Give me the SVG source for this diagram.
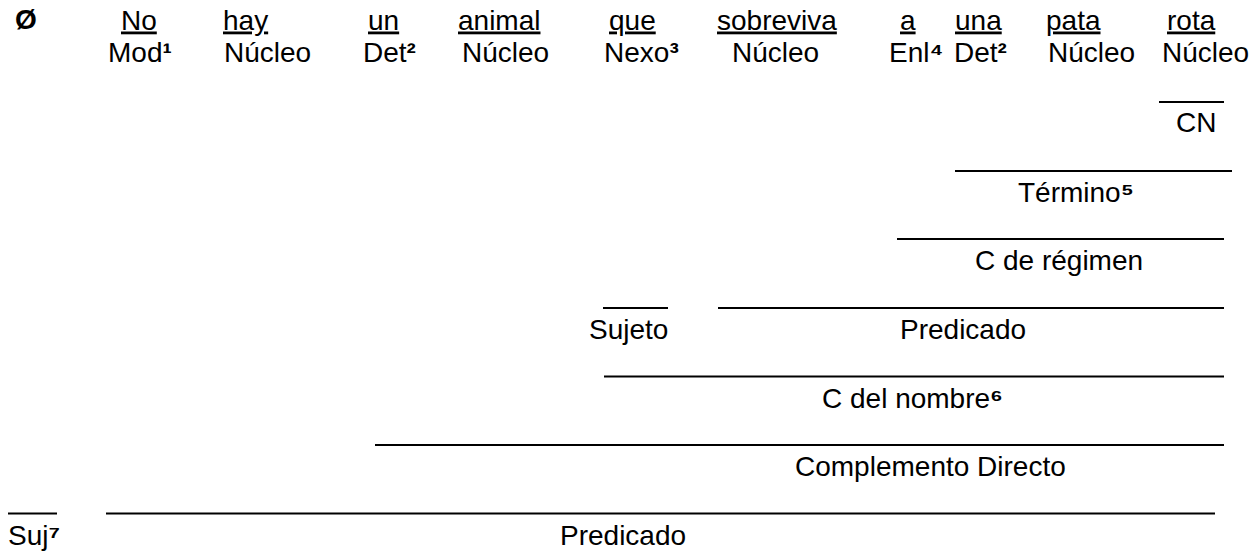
<svg xmlns="http://www.w3.org/2000/svg" width="1257" height="552" viewBox="0 0 1257 552">
<style>
text{font-family:"Liberation Sans",Arial,sans-serif;font-size:28px;fill:#000}
.w{text-decoration:underline}
.b{font-weight:bold}
.s{font-weight:bold}
.ln{stroke:#000;stroke-width:1.8}
</style>
<rect width="1257" height="552" fill="#fff"/>
<g id="null-subject"><text class="b" x="15" y="29" font-size="25">Ø</text></g>
<g id="w-no"><text class="w" x="121" y="29.5">No</text><text x="108" y="62">Mod<tspan class="s">¹</tspan></text></g>
<g id="w-hay"><text class="w" x="223" y="29.5">hay</text><text x="224" y="62">Núcleo</text></g>
<g id="w-un"><text class="w" x="368" y="29.5">un</text><text x="363" y="62">Det<tspan class="s">²</tspan></text></g>
<g id="w-animal"><text class="w" x="458" y="29.5">animal</text><text x="462" y="62">Núcleo</text></g>
<g id="w-que"><text class="w" x="609" y="29.5">que</text><text x="604" y="62">Nexo<tspan class="s">³</tspan></text></g>
<g id="w-sobreviva"><text class="w" x="717" y="29.5">sobreviva</text><text x="732" y="62">Núcleo</text></g>
<g id="w-a"><text class="w" x="900" y="29.5">a</text><text x="889" y="62">Enl<tspan class="s">⁴</tspan></text></g>
<g id="w-una"><text class="w" x="955" y="29.5">una</text><text x="954" y="62">Det<tspan class="s">²</tspan></text></g>
<g id="w-pata"><text class="w" x="1046" y="29.5">pata</text><text x="1048" y="62">Núcleo</text></g>
<g id="w-rota"><text class="w" x="1167" y="29.5">rota</text><text x="1162" y="62">Núcleo</text></g>
<g id="connectors">
<line class="ln" x1="1159" y1="102" x2="1224" y2="102"/>
<line class="ln" x1="955" y1="171" x2="1232" y2="171"/>
<line class="ln" x1="897" y1="239" x2="1224" y2="239"/>
<line class="ln" x1="603" y1="308" x2="668" y2="308"/>
<line class="ln" x1="718" y1="308" x2="1224" y2="308"/>
<line class="ln" x1="604" y1="376.5" x2="1224" y2="376.5"/>
<line class="ln" x1="375" y1="445" x2="1224" y2="445"/>
<line class="ln" x1="8" y1="513.5" x2="57" y2="513.5"/>
<line class="ln" x1="106" y1="513.5" x2="1215" y2="513.5"/>
</g>
<g id="cn"><text x="1176" y="132">CN</text></g>
<g id="termino"><text x="1018" y="202">Término<tspan class="s">⁵</tspan></text></g>
<g id="c-regimen"><text x="975" y="270">C de régimen</text></g>
<g id="sujeto-sub"><text x="589" y="339">Sujeto</text></g>
<g id="predicado-sub"><text x="900" y="339">Predicado</text></g>
<g id="c-nombre"><text x="822" y="408">C del nombre<tspan class="s">⁶</tspan></text></g>
<g id="cd"><text x="795" y="476">Complemento Directo</text></g>
<g id="suj"><text x="8" y="545">Suj<tspan class="s">⁷</tspan></text></g>
<g id="predicado"><text x="560" y="545">Predicado</text></g>
</svg>
